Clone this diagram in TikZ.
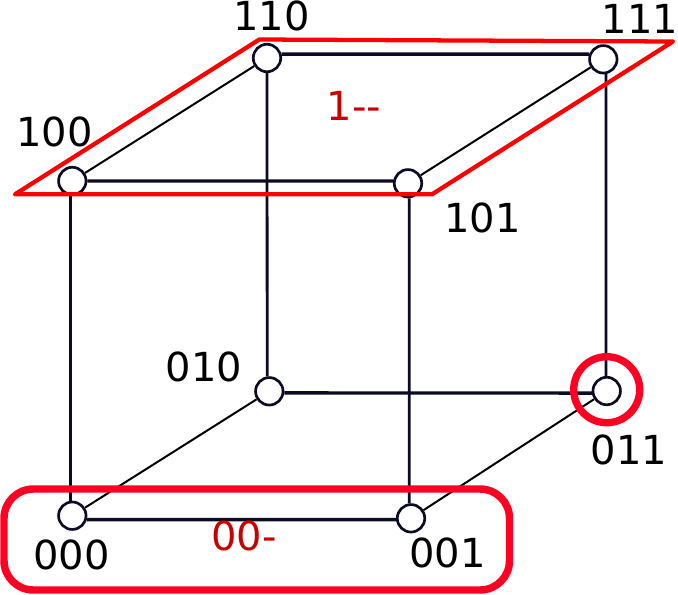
\documentclass[tikz,border=0pt]{standalone}
\usepackage{fontspec}
\setmainfont{DejaVu Sans}
\definecolor{edgeink}{HTML}{0B0B24}
\definecolor{hired}{HTML}{FF0000}
\definecolor{ringred}{HTML}{FF0022}
\definecolor{labred}{HTML}{C80000}
\tikzset{
  vertexnode/.style={circle,draw=edgeink,fill=white,line width=2pt,minimum size=20.6pt,inner sep=0pt},
  labeltext/.style={text=black,inner sep=0pt,font=\fontsize{30}{32}\selectfont},
  termtext/.style={text=labred,inner sep=0pt,font=\fontsize{30}{32}\selectfont},
  flatedge/.style={draw=edgeink,line width=2.5pt},
  postedge/.style={draw=edgeink,line width=2.1pt},
  thinedge/.style={draw=black,line width=1.5pt},
}
\begin{document}
\begin{tikzpicture}[x=0.75pt,y=-0.75pt]
\useasboundingbox (0,0) rectangle (678,594);
% nodes
\node[vertexnode] (n100) at (72.3,181) {};
\node[vertexnode] (n110) at (267,58) {};
\node[vertexnode] (n111) at (603.3,59.3) {};
\node[vertexnode] (n101) at (408,183.3) {};
\node[vertexnode] (n000) at (72.3,515.7) {};
\node[vertexnode] (n001) at (411,518.3) {};
\node[vertexnode] (n010) at (269.3,391.3) {};
\node[vertexnode] (n011) at (606.7,391) {};
% edges
\draw[flatedge] (n100.east) -- (n101.171);
\draw[flatedge] (n110.15) -- (n111.160);
\draw[flatedge] (n010.-6) -- (n011.188);
\draw[flatedge] (n000.-15) -- (n001.185);
\draw[postedge] (n100.-96) -- (n000.96);
\draw[postedge] (n110.south) -- (n010.98);
\draw[postedge] (n101.-85) -- (n001.97);
\draw[postedge] (n111.-80) -- (n011.93);
\draw[thinedge] (n100) -- (n110);
\draw[thinedge] (n101) -- (n111);
\draw[thinedge] (n000) -- (n010);
\draw[thinedge] (n001) -- (n011);
% red groupings
\draw[hired,line width=3.2pt,line join=round] (15,194.3) -- (259.3,39.5) -- (673,41.5) -- (432,194.3) -- cycle;
\draw[ringred,line width=5.6pt,rounded corners=22pt] (4,489) rectangle (509.5,590);
\draw[ringred,line width=5.5pt] (606.7,389.7) circle (33);
% labels
\node[labeltext] (l100) at (54.5,131.7) {100};
\node[labeltext] (l110) at (271.5,16) {110};
\node[labeltext] (l111) at (639.8,19) {111};
\node[labeltext] (l101) at (482.6,217.7) {101};
\node[labeltext] (l010) at (204,366.5) {010};
\node[labeltext] (l011) at (629,449.5) {011};
\node[labeltext] (l000) at (71.3,555) {000};
\node[labeltext] (l001) at (447.5,553.3) {001};
\node[termtext] (t1) at (354,106) {1{-}{-}};
\node[termtext] (t0) at (244,536) {00{-}};
\end{tikzpicture}
\end{document}
